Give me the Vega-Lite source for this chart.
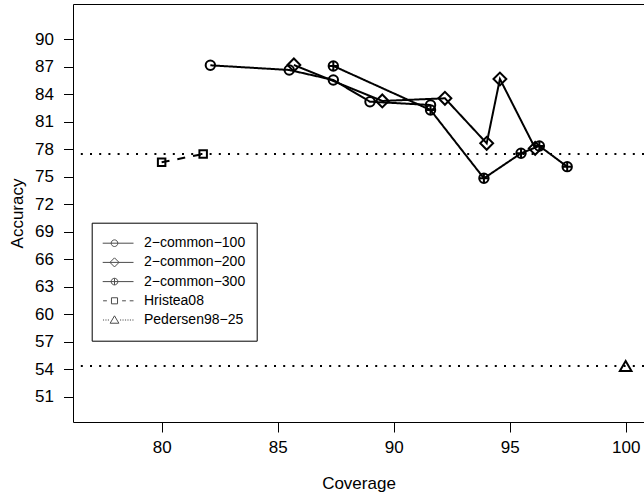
{
  "$schema": "https://vega.github.io/schema/vega-lite/v6.json",
  "width": 571,
  "height": 418,
  "autosize": {"type": "none"},
  "padding": {"left": 73, "top": 4, "right": 0, "bottom": 74},
  "background": "white",
  "datasets": {
    "pts": [
      {"series": "2−common−100", "x": 82.1, "y": 87.16},
      {"series": "2−common−100", "x": 85.5, "y": 86.65},
      {"series": "2−common−100", "x": 87.4, "y": 85.56},
      {"series": "2−common−100", "x": 88.98, "y": 83.19},
      {"series": "2−common−100", "x": 91.59, "y": 82.83},
      {"series": "2−common−200", "x": 85.7, "y": 87.2},
      {"series": "2−common−200", "x": 89.51, "y": 83.27},
      {"series": "2−common−200", "x": 92.21, "y": 83.56},
      {"series": "2−common−200", "x": 94.01, "y": 78.65},
      {"series": "2−common−200", "x": 94.58, "y": 85.67},
      {"series": "2−common−200", "x": 96.1, "y": 78.1},
      {"series": "2−common−300", "x": 87.4, "y": 87.09},
      {"series": "2−common−300", "x": 91.59, "y": 82.28},
      {"series": "2−common−300", "x": 93.89, "y": 74.83},
      {"series": "2−common−300", "x": 95.49, "y": 77.56},
      {"series": "2−common−300", "x": 96.28, "y": 78.36},
      {"series": "2−common−300", "x": 97.48, "y": 76.1},
      {"series": "Hristea08", "x": 80.0, "y": 76.58},
      {"series": "Hristea08", "x": 81.79, "y": 77.48},
      {"series": "Pedersen98−25", "x": 100.0, "y": 54.35}
    ],
    "refs": [
      {"series": "Hristea08", "y": 77.48},
      {"series": "Pedersen98−25", "y": 54.35}
    ]
  },
  "layer": [
    {
      "data": {"name": "refs"},
      "mark": {"type": "rule", "strokeDash": [2, 7.2], "strokeWidth": 2, "color": "black"},
      "encoding": {
        "y": {"field": "y", "type": "quantitative", "scale": {"domain": [48.24, 93.85], "nice": false, "zero": false},
              "axis": {"values": [51, 54, 57, 60, 63, 66, 69, 72, 75, 78, 81, 84, 87, 90], "title": "Accuracy"}}
      }
    },
    {
      "data": {"name": "pts"},
      "mark": {"type": "line", "strokeWidth": 2, "color": "black"},
      "encoding": {
        "x": {"field": "x", "type": "quantitative", "scale": {"domain": [76.18, 100.79], "nice": false, "zero": false},
              "axis": {"values": [80, 85, 90, 95, 100], "title": "Coverage"}},
        "y": {"field": "y", "type": "quantitative", "scale": {"domain": [48.24, 93.85], "nice": false, "zero": false},
              "axis": {"values": [51, 54, 57, 60, 63, 66, 69, 72, 75, 78, 81, 84, 87, 90], "title": "Accuracy"}},
        "strokeDash": {"field": "series", "type": "nominal",
          "scale": {"domain": ["2−common−100", "2−common−200", "2−common−300", "Hristea08", "Pedersen98−25"],
                    "range": [[1, 0], [1, 0], [1, 0], [8, 8], [2, 7]]},
          "legend": null}
      }
    },
    {
      "data": {"name": "pts"},
      "mark": {"type": "point", "filled": false, "strokeWidth": 2, "color": "black", "opacity": 1},
      "encoding": {
        "x": {"field": "x", "type": "quantitative", "scale": {"domain": [76.18, 100.79], "nice": false, "zero": false},
              "axis": {"values": [80, 85, 90, 95, 100], "title": "Coverage"}},
        "y": {"field": "y", "type": "quantitative", "scale": {"domain": [48.24, 93.85], "nice": false, "zero": false},
              "axis": {"values": [51, 54, 57, 60, 63, 66, 69, 72, 75, 78, 81, 84, 87, 90], "title": "Accuracy"}},
        "shape": {"field": "series", "type": "nominal",
          "scale": {"domain": ["2−common−100", "2−common−200", "2−common−300", "Hristea08", "Pedersen98−25"],
                    "range": ["circle", "diamond", "M1,0A1,1,0,1,1,-1,0A1,1,0,1,1,1,0M-1,0H1M0,-1V1", "square", "triangle-up"]},
          "legend": null},
        "size": {"field": "series", "type": "nominal",
          "scale": {"type": "ordinal", "domain": ["2−common−100", "2−common−200", "2−common−300", "Hristea08", "Pedersen98−25"],
                    "range": [88, 165, 88, 56, 135]},
          "legend": null}
      }
    },
    {
      "data": {"name": "pts"},
      "transform": [{"filter": "false"}],
      "mark": {"type": "point", "filled": false, "strokeWidth": 1, "color": "black"},
      "encoding": {
        "x": {"field": "x", "type": "quantitative", "scale": {"domain": [76.18, 100.79], "nice": false, "zero": false},
              "axis": {"values": [80, 85, 90, 95, 100], "title": "Coverage"}},
        "y": {"field": "y", "type": "quantitative", "scale": {"domain": [48.24, 93.85], "nice": false, "zero": false},
              "axis": {"values": [51, 54, 57, 60, 63, 66, 69, 72, 75, 78, 81, 84, 87, 90], "title": "Accuracy"}},
        "shape": {"field": "series", "type": "nominal",
          "scale": {"domain": ["2−common−100", "2−common−200", "2−common−300", "Hristea08", "Pedersen98−25"],
                    "range": [
                      "M-1,0H1M0.175,0A0.175,0.175,0,1,1,-0.175,0A0.175,0.175,0,1,1,0.175,0",
                      "M-1,0H1M0,-0.24L0.24,0L0,0.24L-0.24,0Z",
                      "M-1,0H1M0.175,0A0.175,0.175,0,1,1,-0.175,0A0.175,0.175,0,1,1,0.175,0M0,-0.175V0.175",
                      "M-1,0H-0.8M-0.6,0H-0.4M0.4,0H0.6M0.8,0H1M-0.16,-0.16H0.16V0.16H-0.16Z",
                      "M-1,0h0.06M-0.87,0h0.06M-0.74,0h0.06M-0.61,0h0.06M-0.48,0h0.06M-0.35,0h0.06M0.29,0h0.06M0.42,0h0.06M0.55,0h0.06M0.68,0h0.06M0.81,0h0.06M0.94,0h0.06M0,-0.22L0.23,0.17L-0.23,0.17Z"
                    ]},
          "legend": {
            "orient": "none", "legendX": 18.7, "legendY": 218.7, "title": null,
            "strokeColor": "black", "fillColor": "white", "padding": 11,
            "labelFontSize": 14, "labelColor": "black", "labelOffset": 10,
            "symbolSize": 1444, "symbolStrokeWidth": 1, "symbolStrokeColor": "black", "symbolFillColor": "transparent",
            "symbolOffset": -7.7, "clipHeight": 19, "rowPadding": 0.2
          }}
      }
    }
  ],
  "resolve": {"scale": {"shape": "independent", "size": "independent"}, "legend": {"shape": "independent"}},
  "config": {
    "font": "Liberation Sans",
    "view": {"stroke": "black", "strokeWidth": 1},
    "axis": {"grid": false, "domain": false, "tickColor": "black", "labelColor": "black", "titleColor": "black",
             "labelFontSize": 17, "titleFontSize": 17, "titleFontWeight": "normal", "labelFlush": false, "labelOverlap": false},
    "axisX": {"tickSize": 10, "labelPadding": 7, "titlePadding": 20},
    "axisY": {"tickSize": 9.5, "labelPadding": 10, "titlePadding": 8}
  }
}
